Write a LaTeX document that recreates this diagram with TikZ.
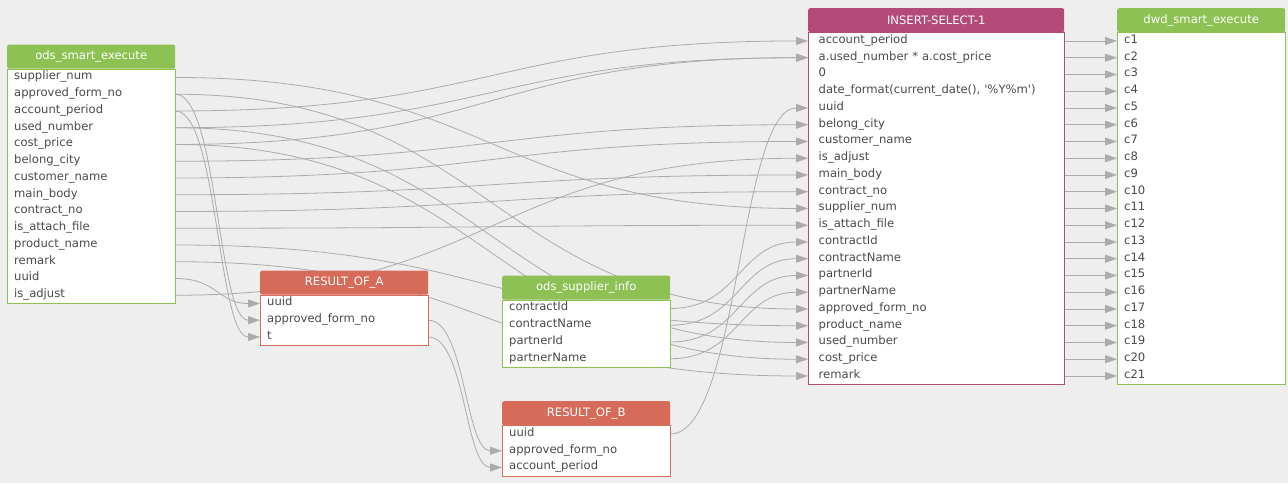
\documentclass[tikz,border=0pt]{standalone}
\usepackage{fontspec}
\setmainfont{DejaVu Sans}
\usetikzlibrary{arrows.meta,calc}

\definecolor{bggray}{HTML}{EEEEEE}
\definecolor{srcgreen}{HTML}{8DC153}
\definecolor{resred}{HTML}{D76B5A}
\definecolor{insmag}{HTML}{B34A78}
\definecolor{linkgray}{HTML}{ABABAB}
\definecolor{rowtext}{HTML}{4A4A4A}

\pgfdeclarelayer{back}
\pgfdeclarelayer{links}
\pgfsetlayers{back,links,main}

\tikzset{
  head/.style={fill=#1, text=white, rounded corners=2pt, minimum height=24pt, inner sep=0pt, anchor=north west},
  field/.style={text width=#1, fill=white, text=rowtext, inner xsep=7pt, inner ysep=0pt,
    minimum height=16.75pt, text height=7.8pt, text depth=3pt, anchor=north west, align=left},
  field/.default=154pt,
  frame/.style={draw=#1, line width=0.8pt},
  link/.style={draw=linkgray, line width=0.8pt, -{Triangle[length=12pt,width=8pt]},
    to path={let \p1=(\tikztostart), \p2=(\tikztotarget) in
      .. controls ({(\x1+\x2)/2},\y1) and ({(\x1+\x2)/2},\y2) .. (\tikztotarget)}}
}

\begin{document}
\begin{tikzpicture}[x=1pt, y=-1pt, font=\fontsize{11.6pt}{13pt}\selectfont]
  \useasboundingbox (0,0) rectangle (1288,483);
  \begin{pgfonlayer}{back}
    \fill[bggray] (0,0) rectangle (1288,483);
  \end{pgfonlayer}

  % source table
  \node[head=srcgreen, minimum width=168pt] (ose) at (7,44.5) {ods\_smart\_execute};
  \foreach \t [count=\i] in {supplier\_num, approved\_form\_no, account\_period, used\_number,
      cost\_price, belong\_city, customer\_name, main\_body, contract\_no, is\_attach\_file,
      product\_name, remark, uuid, is\_adjust}
    \node[field] (ose\i) at ($(ose.south west)+(0,{16.75*(\i-1)})$) {\t};
  \draw[frame=srcgreen] (ose.south west) rectangle (ose14.south east);

  % first result
  \node[head=resred, minimum width=168pt] (roa) at (260,270.5) {RESULT\_OF\_A};
  \foreach \t [count=\i] in {uuid, approved\_form\_no, t}
    \node[field] (roa\i) at ($(roa.south west)+(0,{16.75*(\i-1)})$) {\t};
  \draw[frame=resred] (roa.south west) rectangle (roa3.south east);

  % supplier table
  \node[head=srcgreen, minimum width=168pt] (osi) at (502,275.5) {ods\_supplier\_info};
  \foreach \t [count=\i] in {contractId, contractName, partnerId, partnerName}
    \node[field] (osi\i) at ($(osi.south west)+(0,{16.75*(\i-1)})$) {\t};
  \draw[frame=srcgreen] (osi.south west) rectangle (osi4.south east);

  % second result
  \node[head=resred, minimum width=168pt] (rob) at (502,401) {RESULT\_OF\_B};
  \foreach \t [count=\i] in {uuid, approved\_form\_no, account\_period}
    \node[field] (rob\i) at ($(rob.south west)+(0,{16.75*(\i-1)})$) {\t};
  \draw[frame=resred] (rob.south west) rectangle (rob3.south east);

  % insert select
  \node[head=insmag, minimum width=256pt] (ins) at (808,8) {INSERT-SELECT-1};
  \foreach \t [count=\i] in {account\_period, a.used\_number * a.cost\_price, 0,
      {date\_format(current\_date(), \textquotesingle\%Y\%m\textquotesingle)}, uuid, belong\_city,
      customer\_name, is\_adjust, main\_body, contract\_no, supplier\_num, is\_attach\_file,
      contractId, contractName, partnerId, partnerName, approved\_form\_no, product\_name,
      used\_number, cost\_price, remark}
    \node[field=235pt, inner xsep=10.5pt] (ins\i) at ($(ins.south west)+(0,{16.75*(\i-1)})$) {\t};
  \draw[frame=insmag] (ins.south west) rectangle (ins21.south east);

  % target table
  \node[head=srcgreen, minimum width=168pt] (dwd) at (1117,8) {dwd\_smart\_execute};
  \foreach \i in {1,...,21}
    \node[field] (dwd\i) at ($(dwd.south west)+(0,{16.75*(\i-1)})$) {c\i};
  \draw[frame=srcgreen] (dwd.south west) rectangle (dwd21.south east);

  \begin{pgfonlayer}{links}
    \draw[link] (ose3.east) to (ins1.west);
    \draw[link] (ose4.east) to (ins2.west);
    \draw[link] (ose5.east) to (ins2.west);
    \draw[link] (rob1.east) to (ins5.west);
    \draw[link] (ose6.east) to (ins6.west);
    \draw[link] (ose7.east) to (ins7.west);
    \draw[link] (ose14.east) to (ins8.west);
    \draw[link] (ose8.east) to (ins9.west);
    \draw[link] (ose9.east) to (ins10.west);
    \draw[link] (ose1.east) to (ins11.west);
    \draw[link] (ose10.east) to (ins12.west);
    \draw[link] (osi1.east) to (ins13.west);
    \draw[link] (osi2.east) to (ins14.west);
    \draw[link] (osi3.east) to (ins15.west);
    \draw[link] (osi4.east) to (ins16.west);
    \draw[link] (ose2.east) to (ins17.west);
    \draw[link] (ose11.east) to (ins18.west);
    \draw[link] (ose4.east) to (ins19.west);
    \draw[link] (ose5.east) to (ins20.west);
    \draw[link] (ose12.east) to (ins21.west);
    \draw[link] (ose13.east) to (roa1.west);
    \draw[link] (ose2.east) to (roa2.west);
    \draw[link] (ose3.east) to (roa3.west);
    \draw[link] (roa2.east) to (rob2.west);
    \draw[link] (roa3.east) to (rob3.west);
    \foreach \i in {1,...,21}
      \draw[link] (ins\i.east) -- (dwd\i.west);
  \end{pgfonlayer}
\end{tikzpicture}
\end{document}
